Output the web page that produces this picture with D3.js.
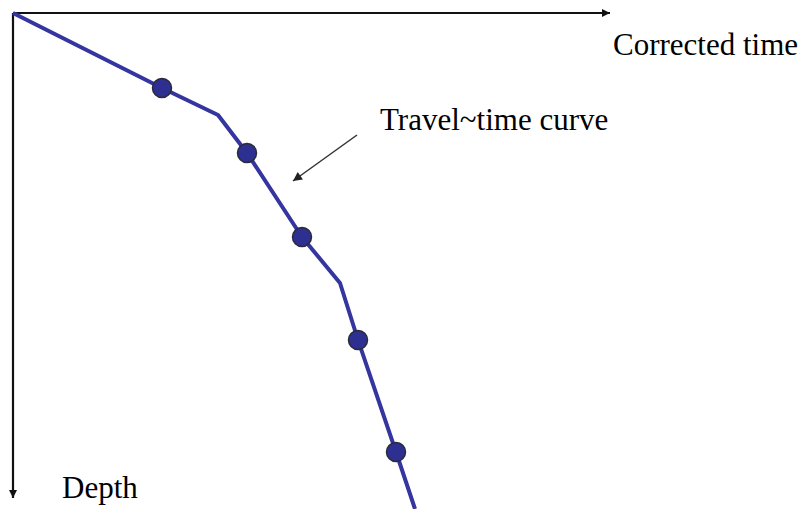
<!DOCTYPE html>
<html>
<head>
<meta charset="utf-8">
<script src="https://cdn.jsdelivr.net/npm/d3@7"></script>
<style>
  html, body { margin: 0; padding: 0; background: #fff; }
  svg { display: block; }
</style>
</head>
<body>
<svg id="chart" width="809" height="509"></svg>
<script>
// Travel-time curve vertices (arbitrary units: corrected time, depth)
const curveTime  = [0, 149, 205, 234, 289, 327, 345, 383, 402];
const curveDepth = [0,  75, 102, 140, 224, 270, 327, 439, 496];
// Measured points (markers)
const pointTime  = [149, 234, 289, 345, 383];
const pointDepth = [ 75, 140, 224, 327, 439];
// Labels
const xLabel = "Corrected time";
const yLabel = "Depth";
const curveLabel = "Travel~time curve";

const FONT = "'Liberation Serif', 'Times New Roman', Times, serif";

const svg = d3.select("#chart");
const ox = 13, oy = 13;

const x = d3.scaleLinear().domain([0, 600]).range([ox, ox + 600]);
const y = d3.scaleLinear().domain([0, 500]).range([oy, oy + 500]);

const defs = svg.append("defs");
defs.append("marker")
  .attr("id", "axArrow").attr("viewBox", "0 0 10 10")
  .attr("refX", 10).attr("refY", 5)
  .attr("markerWidth", 10).attr("markerHeight", 8)
  .attr("markerUnits", "userSpaceOnUse")
  .attr("orient", "auto")
  .append("path").attr("d", "M0,0 L10,5 L0,10 Z").attr("fill", "#111");
defs.append("marker")
  .attr("id", "annArrow").attr("viewBox", "0 0 10 10")
  .attr("refX", 10).attr("refY", 5)
  .attr("markerWidth", 13).attr("markerHeight", 9)
  .attr("markerUnits", "userSpaceOnUse")
  .attr("orient", "auto")
  .append("path").attr("d", "M0,0 L10,5 L0,10 Z").attr("fill", "#222");

// Axes
svg.append("line")
  .attr("x1", x(0)).attr("y1", y(0)).attr("x2", x(597)).attr("y2", y(0))
  .attr("stroke", "#111").attr("stroke-width", 2.2)
  .attr("marker-end", "url(#axArrow)");
svg.append("line")
  .attr("x1", x(0)).attr("y1", y(0)).attr("x2", x(0)).attr("y2", y(485))
  .attr("stroke", "#111").attr("stroke-width", 2.2)
  .attr("marker-end", "url(#axArrow)");

// Curve
const curveData = curveTime.map((t, i) => [t, curveDepth[i]]);
const line = d3.line().x(d => x(d[0])).y(d => y(d[1]));
svg.append("path")
  .datum(curveData)
  .attr("d", line)
  .attr("fill", "none")
  .attr("stroke", "#3535a0")
  .attr("stroke-width", 4)
  .attr("stroke-linejoin", "round");

// Points
const pts = pointTime.map((t, i) => [t, pointDepth[i]]);
svg.selectAll("circle.pt").data(pts).enter().append("circle")
  .attr("class", "pt")
  .attr("cx", d => x(d[0])).attr("cy", d => y(d[1]))
  .attr("r", 9.5)
  .attr("fill", "#2d3090")
  .attr("stroke", "#2a2a3a").attr("stroke-width", 1.5);

// Labels
const lab = (tx, ty, s) => svg.append("text")
  .attr("x", tx).attr("y", ty)
  .attr("font-family", FONT)
  .attr("font-size", 31)
  .attr("fill", "#000")
  .text(s);
lab(613, 55, xLabel);
lab(62, 498, yLabel);
lab(380, 130, curveLabel);

// Annotation arrow
svg.append("line")
  .attr("x1", 357).attr("y1", 135).attr("x2", 293).attr("y2", 181)
  .attr("stroke", "#333").attr("stroke-width", 1.5)
  .attr("marker-end", "url(#annArrow)");
</script>
</body>
</html>
